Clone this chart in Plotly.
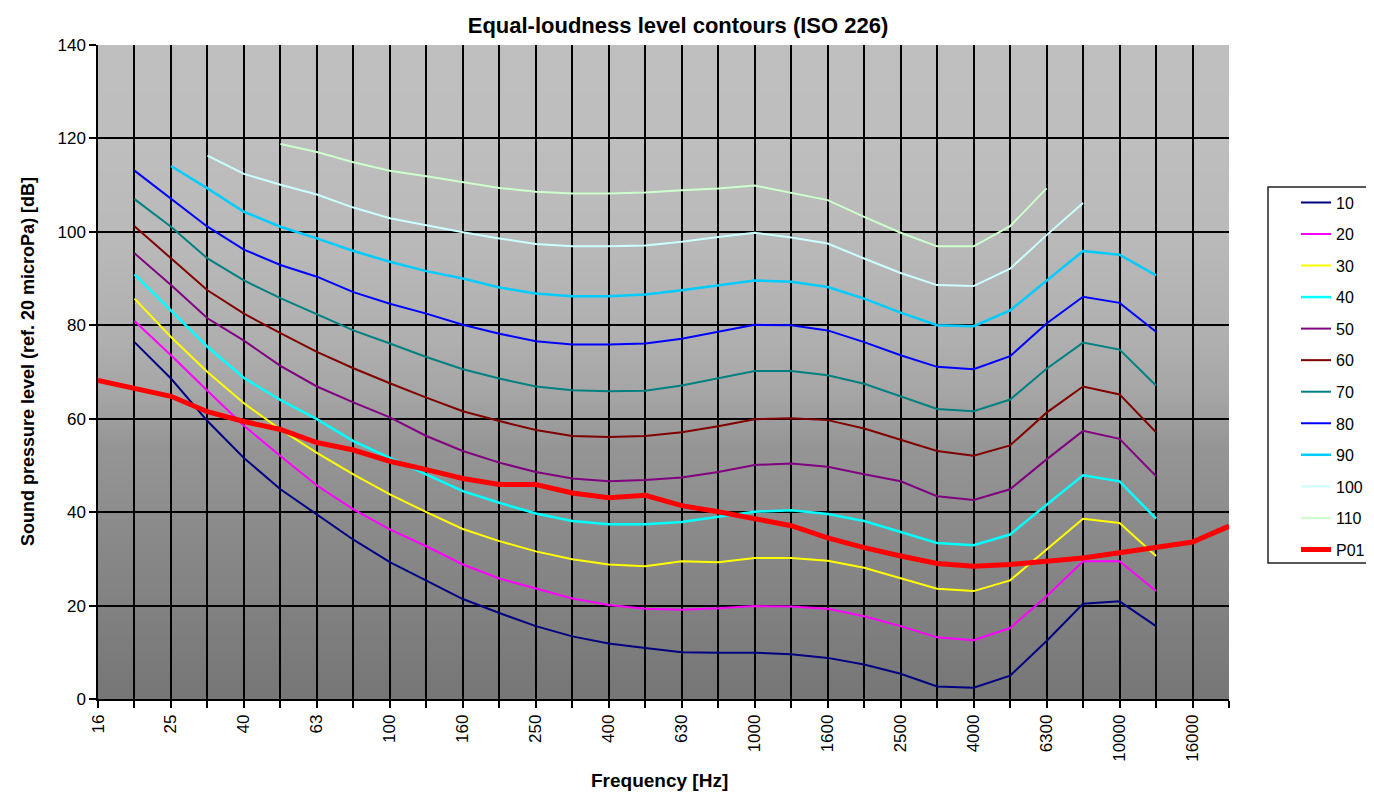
import plotly.graph_objects as go

# ---------------- data ----------------
freq_labels = ["16", "20", "25", "31.5", "40", "50", "63", "80", "100", "125",
               "160", "200", "250", "315", "400", "500", "630", "800", "1000",
               "1250", "1600", "2000", "2500", "3150", "4000", "5000", "6300",
               "8000", "10000", "12500", "16000", "20000"]

tick_text = ["16", "", "25", "", "40", "", "63", "", "100", "", "160", "", "250",
             "", "400", "", "630", "", "1000", "", "1600", "", "2500", "", "4000",
             "", "6300", "", "10000", "", "16000", ""]

phon_10 = [None, 76.4, 68.6, 59.5, 51.6, 44.9, 39.5, 34.1, 29.3, 25.4, 21.4, 18.4,
           15.6, 13.4, 11.9, 10.9, 10.0, 9.9, 9.9, 9.6, 8.8, 7.4, 5.4, 2.7, 2.4,
           5.0, 12.4, 20.4, 20.9, 15.6, None, None]
phon_20 = [None, 80.9, 73.6, 66.0, 58.5, 52.0, 45.7, 40.6, 36.3, 32.7, 28.8, 25.8,
           23.6, 21.5, 20.1, 19.3, 19.1, 19.4, 19.9, 19.8, 19.3, 17.7, 15.6, 13.2,
           12.6, 15.2, 22.0, 29.5, 29.5, 23.1, None, None]
phon_30 = [None, 85.7, 77.5, 70.0, 63.3, 57.7, 52.7, 48.1, 43.8, 40.0, 36.4, 33.8,
           31.6, 29.9, 28.8, 28.4, 29.5, 29.3, 30.2, 30.2, 29.6, 28.1, 25.9, 23.6,
           23.1, 25.4, 32.0, 38.6, 37.7, 30.6, None, None]
phon_40 = [None, 90.9, 83.2, 75.4, 68.7, 64.0, 59.9, 55.2, 51.6, 48.1, 44.5, 42.0,
           39.7, 38.1, 37.4, 37.4, 37.9, 39.0, 40.1, 40.4, 39.6, 38.1, 35.8, 33.4,
           32.9, 35.2, 41.6, 47.9, 46.6, 38.6, None, None]
phon_50 = [None, 95.4, 88.6, 81.5, 76.7, 71.3, 66.9, 63.5, 60.3, 56.3, 53.1, 50.6,
           48.6, 47.2, 46.6, 46.9, 47.4, 48.6, 50.1, 50.4, 49.7, 48.1, 46.6, 43.4,
           42.6, 44.9, 51.3, 57.4, 55.7, 47.7, None, None]
phon_60 = [None, 101.2, 94.3, 87.5, 82.5, 78.3, 74.3, 70.8, 67.6, 64.5, 61.6, 59.5,
           57.6, 56.3, 56.1, 56.3, 57.1, 58.4, 59.9, 60.1, 59.7, 57.9, 55.5, 53.1,
           52.1, 54.3, 61.3, 66.9, 65.2, 57.1, None, None]
phon_70 = [None, 107.0, 101.1, 94.3, 89.6, 85.8, 82.4, 78.9, 76.1, 73.2, 70.6, 68.6,
           66.9, 66.1, 65.9, 66.0, 67.1, 68.6, 70.2, 70.2, 69.3, 67.5, 64.8, 62.1,
           61.6, 64.1, 70.7, 76.3, 74.8, 67.1, None, None]
phon_80 = [None, 113.1, 107.1, 101.1, 96.2, 92.9, 90.4, 87.1, 84.6, 82.5, 80.1, 78.2,
           76.6, 75.9, 75.9, 76.1, 77.1, 78.6, 80.1, 80.0, 78.9, 76.4, 73.6, 71.1,
           70.6, 73.4, 80.4, 86.1, 84.8, 78.6, None, None]
phon_90 = [None, None, 114.1, 109.3, 104.3, 101.1, 98.6, 95.9, 93.6, 91.6, 90.0, 88.1,
           86.8, 86.2, 86.2, 86.6, 87.5, 88.6, 89.6, 89.3, 88.2, 85.7, 82.7, 80.0,
           79.8, 83.2, 89.6, 95.9, 95.1, 90.7, None, None]
phon_100 = [None, None, None, 116.3, 112.4, 110.1, 108.0, 105.2, 102.9, 101.4, 99.9,
            98.6, 97.4, 96.9, 96.9, 97.1, 97.9, 98.9, 99.8, 98.8, 97.5, 94.3, 91.2,
            88.6, 88.4, 92.1, 99.3, 106.2, None, None, None, None]
phon_110 = [None, None, None, None, None, 118.8, 117.1, 114.9, 113.1, 111.9, 110.7,
            109.4, 108.6, 108.2, 108.2, 108.4, 108.9, 109.3, 109.9, 108.4, 106.8,
            103.2, 99.8, 96.9, 96.9, 101.2, 109.3, None, None, None, None, None]
p01 = [68.2, 66.4, 64.8, 61.5, 59.4, 57.7, 54.9, 53.3, 50.9, 49.1, 47.2, 45.9, 45.9,
       44.1, 43.1, 43.6, 41.4, 40.1, 38.6, 37.1, 34.5, 32.4, 30.6, 29.0, 28.4, 28.8,
       29.5, 30.2, 31.3, 32.4, 33.6, 37.0]

series_names = ["10", "20", "30", "40", "50", "60", "70", "80", "90", "100", "110", "P01"]
series_values = [phon_10, phon_20, phon_30, phon_40, phon_50, phon_60, phon_70,
                 phon_80, phon_90, phon_100, phon_110, p01]
series_colors = ["#000080", "#FF00FF", "#FFFF00", "#00FFFF", "#800080", "#800000",
                 "#008080", "#0000FF", "#00CCFF", "#CCFFFF", "#CCFFCC", "#FF0000"]
series_widths = [2, 2, 2, 2.5, 2, 2, 2, 2, 2.5, 2, 2, 5]

y_ticks = [0, 20, 40, 60, 80, 100, 120, 140]

FONT = "Liberation Sans, Arial, sans-serif"

# ---------------- geometry (page has an 8px body margin) ----------------
OFF = 8
W, H = 1374 - OFF, 792 - OFF
L = 98 - OFF           # plot left at page x=98
T = 45 - OFF           # plot top at page y=45
R = (W + OFF) - 1229   # plot right at page x=1229
B = (H + OFF) - 699    # plot bottom at page y=699
pw, ph = W - L - R, H - T - B


def px_x(page_x):
    return (page_x - OFF - L) / pw


def px_y(page_y):
    return (H - B - (page_y - OFF)) / ph


# ---------------- figure ----------------
fig = go.Figure()
x_pos = list(range(len(freq_labels)))
for name, vals, col, w in zip(series_names, series_values, series_colors, series_widths):
    fig.add_trace(go.Scatter(
        x=x_pos, y=vals, mode="lines", name=name,
        line=dict(color=col, width=w), legendgroup=name,
        connectgaps=False, hovertext=[f"{f} Hz" for f in freq_labels],
    ))

# gradient plot background (grey, light at top -> dark at bottom)
grad_stops = [(0.0, 191), (0.15, 190), (0.30, 185), (0.45, 175), (0.53, 166),
              (0.61, 150), (0.72, 140), (0.86, 129), (1.0, 118)]


def grey_at(t):
    for (t0, g0), (t1, g1) in zip(grad_stops[:-1], grad_stops[1:]):
        if t0 <= t <= t1:
            return g0 + (g1 - g0) * (t - t0) / (t1 - t0)
    return grad_stops[-1][1]


n_strips = 160
for i in range(n_strips):
    t0 = i / n_strips
    t1 = (i + 1) / n_strips
    g = int(round(grey_at((t0 + t1) / 2)))
    fig.add_shape(type="rect", xref="x domain", yref="y domain",
                  x0=0, x1=1, y0=max(0, 1 - t1 - 0.002), y1=1 - t0,
                  fillcolor=f"rgb({g},{g},{g})", line_width=0, layer="below")

# legend frame (runs off the right edge as in the reference)
fig.add_shape(type="rect", xref="paper", yref="paper",
              x0=px_x(1268), x1=px_x(1420), y0=px_y(563), y1=px_y(187),
              fillcolor="white", line=dict(color="#222222", width=1.5),
              layer="above")

fig.update_layout(
    width=W, height=H,
    margin=dict(l=L, r=R, t=T, b=B, autoexpand=False),
    paper_bgcolor="white", plot_bgcolor="#BEBEBE",
    font=dict(family=FONT, color="black"),
    title=dict(text="Equal-loudness level contours (ISO 226)",
               font=dict(family=FONT, size=22, color="black", weight="bold"),
               xref="container", yref="container",
               x=(678 - OFF) / W, xanchor="center",
               y=1 - (25 - OFF) / H, yanchor="middle"),
    showlegend=True,
    legend=dict(x=px_x(1269), xanchor="left", y=px_y(185.5), yanchor="top",
                bgcolor="rgba(0,0,0,0)", borderwidth=0,
                font=dict(family=FONT, size=16, color="black"),
                tracegroupgap=7.75, traceorder="grouped", indentation=27),
    hovermode="closest",
)

fig.update_xaxes(
    range=[0, len(freq_labels) - 1],
    tickmode="array", tickvals=x_pos, ticktext=tick_text,
    tickangle=-90, ticks="outside", ticklen=7, tickwidth=1.5, tickcolor="black",
    tickfont=dict(family=FONT, size=17, color="black"),
    showline=True, linecolor="black", linewidth=1.5,
    showgrid=False, zeroline=False,
    minor=dict(tickmode="array", tickvals=x_pos[1:-1], showgrid=True,
               gridcolor="black", gridwidth=1.5, ticks=""),
)
fig.update_yaxes(
    range=[0, 140],
    tickmode="array", tickvals=y_ticks,
    ticks="outside", ticklen=7, tickwidth=1.5, tickcolor="black",
    tickfont=dict(family=FONT, size=17, color="black"),
    showline=True, linecolor="black", linewidth=1.5,
    showgrid=False, zeroline=False,
    minor=dict(tickmode="array", tickvals=y_ticks[1:-1], showgrid=True,
               gridcolor="black", gridwidth=1.5, ticks=""),
)

# axis titles
fig.add_annotation(text="Frequency [Hz]", xref="paper", yref="paper",
                   x=px_x(659), y=px_y(780),
                   xanchor="center", yanchor="middle", showarrow=False,
                   font=dict(family=FONT, size=19, color="black", weight="bold"))
fig.add_annotation(text="Sound pressure level (ref. 20 microPa) [dB]",
                   xref="paper", yref="paper",
                   x=px_x(28), y=px_y(362), textangle=-90,
                   xanchor="center", yanchor="middle", showarrow=False,
                   font=dict(family=FONT, size=18, color="black", weight="bold"))

fig.write_html("out.html")
